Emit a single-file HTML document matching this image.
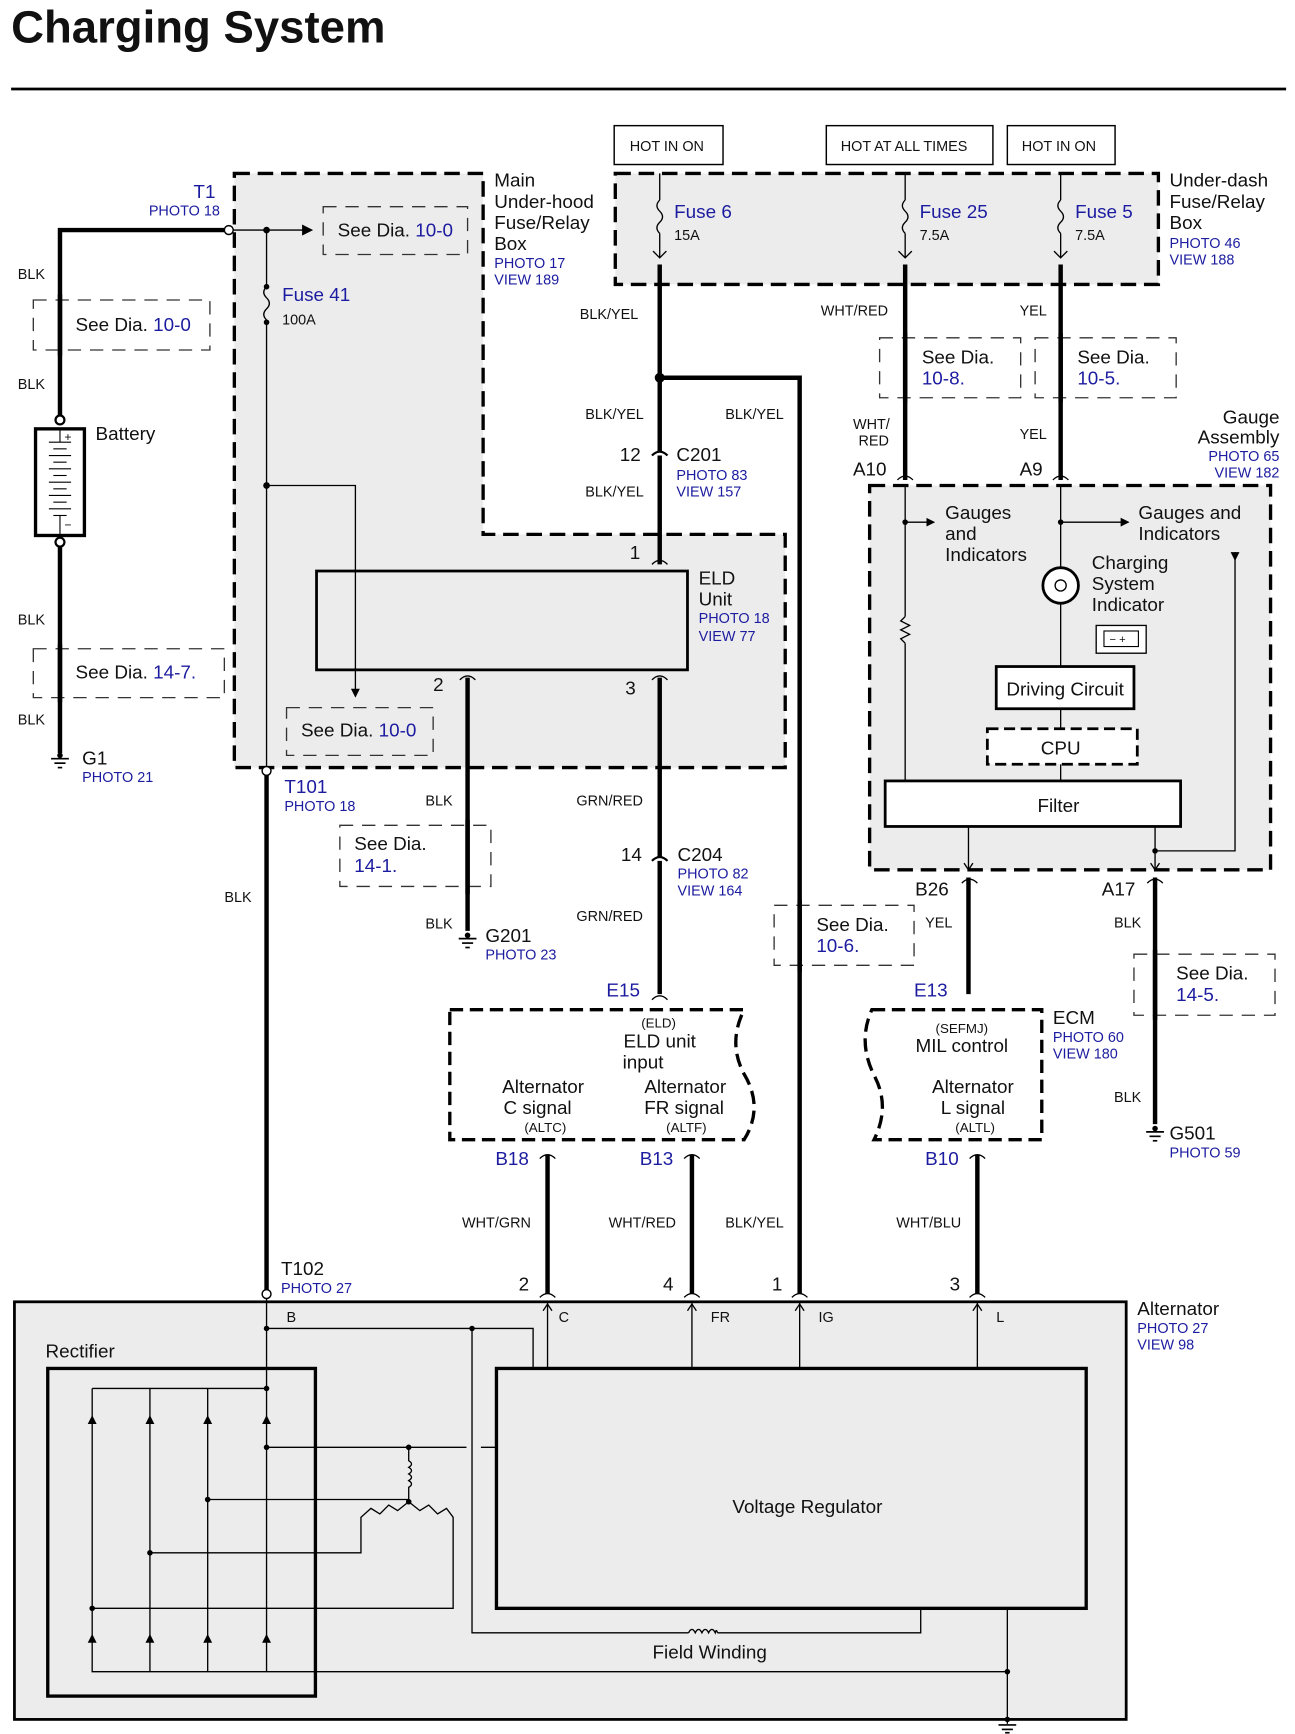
<!DOCTYPE html>
<html><head><meta charset="utf-8"><style>
html,body{margin:0;padding:0;background:#fff}
svg{display:block}
text{font-family:"Liberation Sans",sans-serif;fill:#111}
.b{fill:#1c1ca0}
.s{font-size:13px}
.m{font-size:17px}
.w{fill:none;stroke:#000;stroke-width:4}
.t{fill:none;stroke:#000;stroke-width:1.2}
.d{fill:none;stroke:#333;stroke-width:1.2;stroke-dasharray:12,8}
.box{fill:#ececec;stroke:#000;stroke-width:3;stroke-dasharray:14,7}
</style></head><body>
<svg width="1295" height="1734" viewBox="0 0 1166 1561" xmlns="http://www.w3.org/2000/svg">
<defs>
<marker id="ar" markerWidth="10" markerHeight="10" refX="8" refY="5" orient="auto" markerUnits="userSpaceOnUse"><path d="M0,0 L10,5 L0,10 z" fill="#000"/></marker>
<marker id="as" markerWidth="8" markerHeight="8" refX="7" refY="4" orient="auto" markerUnits="userSpaceOnUse"><path d="M0,0 L8,4 L0,8 z" fill="#000"/></marker>
</defs>
<text x="10" y="38" style="font-size:41px;font-weight:bold">Charging System</text>
<line x1="10" y1="80" x2="1158" y2="80" stroke="#000" stroke-width="2.5"/>

<path class="box" d="M211,156 H435 V481 H707 V691 H211 Z"/>
<text class="m" x="445" y="168">Main</text><text class="m" x="445" y="187">Under-hood</text><text class="m" x="445" y="206">Fuse/Relay</text><text class="m" x="445" y="225">Box</text>
<text class="s b" x="445" y="241">PHOTO 17</text><text class="s b" x="445" y="256">VIEW 189</text>
<text class="m b" x="194" y="178" text-anchor="end">T1</text><text class="s b" x="198" y="194" text-anchor="end">PHOTO 18</text>
<path class="w" d="M202,207 H54 V378"/>
<line class="t" x1="210" y1="207" x2="280" y2="207" marker-end="url(#ar)"/>
<circle cx="240" cy="207" r="3" fill="#000"/>
<circle cx="206" cy="207" r="4" fill="#fff" stroke="#000" stroke-width="1.3"/>
<rect class="d" x="291" y="186" width="130" height="43"/>
<text class="m" x="304" y="213">See Dia. <tspan class="b">10-0</tspan></text>
<line class="t" x1="240" y1="207" x2="240" y2="258"/>
<path class="t" d="M240,258 q-5,5 0,10 q5,5 0,10 q-5,5 0,10"/>
<circle cx="240" cy="258" r="2.5"/><circle cx="240" cy="290" r="2.5"/>
<line class="t" x1="240" y1="288" x2="240" y2="690"/>
<text class="m b" x="254" y="271">Fuse 41</text><text class="s" x="254" y="292">100A</text>
<circle cx="240" cy="437" r="3"/>
<path class="t" d="M240,437 H320 V627" marker-end="url(#as)"/>
<rect class="d" x="258" y="637" width="132" height="43"/>
<text class="m" x="271" y="663">See Dia. <tspan class="b">10-0</tspan></text>

<text class="s" x="16" y="251">BLK</text><text class="s" x="16" y="350">BLK</text><text class="s" x="16" y="562">BLK</text><text class="s" x="16" y="652">BLK</text>
<rect class="d" x="30" y="270" width="159" height="45" fill="#fff"/>
<line class="w" x1="54" y1="265" x2="54" y2="320"/>
<text class="m" x="68" y="298">See Dia. <tspan class="b">10-0</tspan></text>
<rect x="32" y="386" width="44" height="96" fill="#fff" stroke="#000" stroke-width="3"/>
<g stroke="#000" stroke-width="1">
<line x1="44" y1="398" x2="64" y2="398"/><line x1="48" y1="404" x2="60" y2="404"/><line x1="44" y1="410" x2="64" y2="410"/><line x1="48" y1="416" x2="60" y2="416"/><line x1="44" y1="422" x2="64" y2="422"/><line x1="48" y1="428" x2="60" y2="428"/><line x1="44" y1="434" x2="64" y2="434"/><line x1="48" y1="440" x2="60" y2="440"/><line x1="44" y1="446" x2="64" y2="446"/><line x1="48" y1="452" x2="60" y2="452"/><line x1="44" y1="458" x2="64" y2="458"/><line x1="48" y1="464" x2="60" y2="464"/><line x1="54" y1="386" x2="54" y2="398"/><line x1="54" y1="464" x2="54" y2="482"/></g>
<text x="58" y="397" style="font-size:11px">+</text><text x="58" y="476" style="font-size:11px">−</text>
<circle cx="54" cy="378" r="4" fill="#fff" stroke="#000" stroke-width="2"/>
<circle cx="54" cy="488" r="4" fill="#fff" stroke="#000" stroke-width="2"/>
<text class="m" x="86" y="396">Battery</text>
<line class="w" x1="54" y1="492" x2="54" y2="678"/>
<rect class="d" x="30" y="584" width="172" height="44" fill="#fff"/>
<line class="w" x1="54" y1="580" x2="54" y2="632"/>
<text class="m" x="68" y="611">See Dia. <tspan class="b">14-7.</tspan></text>
<g stroke="#000" stroke-width="1.5"><line x1="46" y1="683" x2="62" y2="683"/><line x1="49" y1="687" x2="59" y2="687"/><line x1="52" y1="691" x2="56" y2="691"/></g>
<circle cx="54" cy="680" r="2.5"/>
<text class="m" x="74" y="688">G1</text><text class="s b" x="74" y="704">PHOTO 21</text>

<line class="w" x1="240" y1="698" x2="240" y2="1161"/>
<circle cx="240" cy="694" r="4" fill="#fff" stroke="#000" stroke-width="1.3"/>
<text class="m b" x="256" y="714">T101</text><text class="s b" x="256" y="730">PHOTO 18</text>
<text class="s" x="202" y="812">BLK</text>
<text class="m" x="253" y="1148">T102</text><text class="s b" x="253" y="1164">PHOTO 27</text>

<rect x="285" y="514" width="334" height="89" fill="none" stroke="#000" stroke-width="2.5"/>
<text class="m" x="567" y="503">1</text>
<text class="m" x="629" y="526">ELD</text><text class="m" x="629" y="545">Unit</text>
<text class="s b" x="629" y="561">PHOTO 18</text><text class="s b" x="629" y="577">VIEW 77</text>
<text class="m" x="390" y="622">2</text><text class="m" x="563" y="625">3</text>
<path class="t" d="M587,508 q7,-7 14,0 M414,612 q7,-7 14,0 M587,612 q7,-7 14,0" stroke-width="2"/>
<line class="w" x1="421" y1="610" x2="421" y2="838"/>
<rect class="d" x="306" y="743" width="136" height="55" fill="#fff"/>
<line class="w" x1="421" y1="738" x2="421" y2="805"/>
<text class="m" x="319" y="765">See Dia.</text><text class="m b" x="319" y="785">14-1.</text>
<text class="s" x="383" y="725">BLK</text><text class="s" x="383" y="836">BLK</text>
<g stroke="#000" stroke-width="1.5"><line x1="413" y1="845" x2="429" y2="845"/><line x1="416" y1="849" x2="426" y2="849"/><line x1="419" y1="853" x2="423" y2="853"/></g>
<circle cx="421" cy="842" r="2.5"/>
<text class="m" x="437" y="848">G201</text><text class="s b" x="437" y="864">PHOTO 23</text>

<line class="w" x1="594" y1="610" x2="594" y2="895"/>
<text class="s" x="519" y="725">GRN/RED</text><text class="s" x="519" y="829">GRN/RED</text>
<path d="M587,775 q7,-7 14,0" fill="#fff" stroke="#000" stroke-width="2"/>
<text class="m" x="559" y="775">14</text><text class="m" x="610" y="775">C204</text>
<text class="s b" x="610" y="791">PHOTO 82</text><text class="s b" x="610" y="806">VIEW 164</text>
<text class="m b" x="546" y="897">E15</text>
<path class="t" d="M587,900 q7,-7 14,0 M866,795 q7,-7 14,0 M486,1043 q7,-7 14,0 M616,1043 q7,-7 14,0 M873,1043 q7,-7 14,0 M1033,795 q7,-7 14,0" stroke-width="2"/>

<g class="s"><rect x="553" y="113" width="98" height="35" fill="#fff" stroke="#000" stroke-width="1.3"/><text x="567" y="136">HOT IN ON</text>
<rect x="744" y="113" width="150" height="35" fill="#fff" stroke="#000" stroke-width="1.3"/><text x="757" y="136">HOT AT ALL TIMES</text>
<rect x="907" y="113" width="97" height="35" fill="#fff" stroke="#000" stroke-width="1.3"/><text x="920" y="136">HOT IN ON</text></g>
<rect class="box" x="554" y="156" width="489" height="100"/>
<text class="m" x="1053" y="168">Under-dash</text><text class="m" x="1053" y="187">Fuse/Relay</text><text class="m" x="1053" y="206">Box</text>
<text class="s b" x="1053" y="223">PHOTO 46</text><text class="s b" x="1053" y="238">VIEW 188</text>
<g class="t">
<line x1="594" y1="156" x2="594" y2="180"/><path d="M594,180 q-5,5 0,10 q5,5 0,10 q-5,5 0,10"/><line x1="594" y1="210" x2="594" y2="232"/>
<line x1="815" y1="156" x2="815" y2="180"/><path d="M815,180 q-5,5 0,10 q5,5 0,10 q-5,5 0,10"/><line x1="815" y1="210" x2="815" y2="232"/>
<line x1="955" y1="156" x2="955" y2="180"/><path d="M955,180 q-5,5 0,10 q5,5 0,10 q-5,5 0,10"/><line x1="955" y1="210" x2="955" y2="232"/>
<path d="M588,226 l6,6 l6,-6 M809,226 l6,6 l6,-6 M949,226 l6,6 l6,-6"/>
</g>
<text class="m b" x="607" y="196">Fuse 6</text><text class="s" x="607" y="216">15A</text>
<text class="m b" x="828" y="196">Fuse 25</text><text class="s" x="828" y="216">7.5A</text>
<text class="m b" x="968" y="196">Fuse 5</text><text class="s" x="968" y="216">7.5A</text>

<line class="w" x1="594" y1="238" x2="594" y2="508"/>
<circle cx="594" cy="340" r="4.5"/>
<path class="w" d="M594,340 H720 V1165"/>
<path d="M587,410 q7,-7 14,0" fill="#fff" stroke="#000" stroke-width="2"/>
<text class="s" x="522" y="287">BLK/YEL</text><text class="s" x="527" y="377">BLK/YEL</text><text class="s" x="653" y="377">BLK/YEL</text><text class="s" x="527" y="447">BLK/YEL</text>
<text class="m" x="558" y="415">12</text><text class="m" x="609" y="415">C201</text>
<text class="s b" x="609" y="432">PHOTO 83</text><text class="s b" x="609" y="447">VIEW 157</text>
<rect class="d" x="697" y="815" width="126" height="54" fill="#fff"/>
<line class="w" x1="720" y1="810" x2="720" y2="875"/>
<text class="m" x="735" y="838">See Dia.</text><text class="m b" x="735" y="857">10-6.</text>
<text class="s" x="653" y="1105">BLK/YEL</text>

<line class="w" x1="815" y1="238" x2="815" y2="432"/>
<line class="w" x1="955" y1="238" x2="955" y2="432"/>
<text class="s" x="739" y="284">WHT/RED</text><text class="s" x="918" y="284">YEL</text>
<rect class="d" x="792" y="304" width="127" height="54" fill="#fff"/><line class="w" x1="815" y1="300" x2="815" y2="362"/>
<text class="m" x="830" y="327">See Dia.</text><text class="m b" x="830" y="346">10-8.</text>
<rect class="d" x="932" y="304" width="127" height="54" fill="#fff"/><line class="w" x1="955" y1="300" x2="955" y2="362"/>
<text class="m" x="970" y="327">See Dia.</text><text class="m b" x="970" y="346">10-5.</text>
<text class="s" x="768" y="386">WHT/</text><text class="s" x="773" y="401">RED</text><text class="s" x="918" y="395">YEL</text>
<text class="m" x="768" y="428">A10</text><text class="m" x="918" y="428">A9</text>
<text class="m" x="1152" y="381" text-anchor="end">Gauge</text><text class="m" x="1152" y="399" text-anchor="end">Assembly</text>
<text class="s b" x="1152" y="415" text-anchor="end">PHOTO 65</text><text class="s b" x="1152" y="430" text-anchor="end">VIEW 182</text>

<rect class="box" x="783" y="437" width="361" height="346"/>
<path class="t" d="M808,432 q7,-7 14,0 M948,432 q7,-7 14,0" stroke-width="2"/>
<g class="t">
<line x1="815" y1="437" x2="815" y2="555"/><path d="M815,555 l-4,4 l8,4 l-8,4 l8,4 l-8,4 l4,4"/><line x1="815" y1="579" x2="815" y2="703"/>
<line x1="815" y1="470" x2="841" y2="470" marker-end="url(#as)"/>
<line x1="955" y1="437" x2="955" y2="511"/>
<line x1="955" y1="470" x2="1016" y2="470" marker-end="url(#as)"/>
<line x1="955" y1="543" x2="955" y2="600"/><line x1="955" y1="638" x2="955" y2="656"/><line x1="955" y1="688" x2="955" y2="703"/>
<path d="M1112,497 V766 H1040"/>
<line x1="872" y1="744" x2="872" y2="783"/><line x1="1040" y1="744" x2="1040" y2="783"/>
<path d="M868,777 l4,6 l4,-6 M1036,777 l4,6 l4,-6"/>
</g>
<circle cx="815" cy="470" r="2.5"/><circle cx="955" cy="470" r="2.5"/><circle cx="1040" cy="766" r="2.5"/>
<path d="M1108,497 h8 l-4,8z" fill="#000"/>
<text class="m" x="851" y="467">Gauges</text><text class="m" x="851" y="486">and</text><text class="m" x="851" y="505">Indicators</text>
<text class="m" x="1025" y="467">Gauges and</text><text class="m" x="1025" y="486">Indicators</text>
<circle cx="955" cy="527" r="16" fill="#fff" stroke="#000" stroke-width="2.5"/>
<circle cx="955" cy="527" r="5" fill="none" stroke="#000" stroke-width="1.2"/>
<text class="m" x="983" y="512">Charging</text><text class="m" x="983" y="531">System</text><text class="m" x="983" y="550">Indicator</text>
<rect x="987" y="563" width="45" height="25" fill="#fff" stroke="#000" stroke-width="1.2"/>
<rect x="994" y="568" width="31" height="14" fill="none" stroke="#000" stroke-width="1"/>
<text x="999" y="579" style="font-size:10px">−  +</text>
<rect x="897" y="600" width="124" height="38" fill="#fff" stroke="#000" stroke-width="2.5"/>
<text class="m" x="959" y="626" text-anchor="middle">Driving Circuit</text>
<rect x="889" y="656" width="135" height="32" fill="#fff" stroke="#000" stroke-width="2.5" stroke-dasharray="10,5"/>
<text class="m" x="955" y="679" text-anchor="middle">CPU</text>
<rect x="797" y="703" width="266" height="41" fill="#fff" stroke="#000" stroke-width="2.5"/>
<text class="m" x="953" y="731" text-anchor="middle">Filter</text>

<text class="m" x="824" y="806">B26</text><text class="m" x="992" y="806">A17</text>
<line class="w" x1="872" y1="790" x2="872" y2="895"/>
<text class="s" x="833" y="835">YEL</text><text class="m b" x="823" y="897">E13</text>
<line class="w" x1="1040" y1="790" x2="1040" y2="1012"/>
<text class="s" x="1003" y="835">BLK</text><text class="s" x="1003" y="992">BLK</text>
<rect class="d" x="1021" y="859" width="127" height="55" fill="#fff"/><line class="w" x1="1040" y1="855" x2="1040" y2="918"/>
<text class="m" x="1059" y="882">See Dia.</text><text class="m b" x="1059" y="901">14-5.</text>
<g stroke="#000" stroke-width="1.5"><line x1="1032" y1="1019" x2="1048" y2="1019"/><line x1="1035" y1="1023" x2="1045" y2="1023"/><line x1="1038" y1="1027" x2="1042" y2="1027"/></g>
<circle cx="1040" cy="1016" r="2.5"/>
<text class="m" x="1053" y="1026">G501</text><text class="s b" x="1053" y="1042">PHOTO 59</text>

<path d="M405,909 H670 q-15,30 0,58 q18,30 0,59 H405 Z" fill="#fff" stroke="#000" stroke-width="3" stroke-dasharray="12,6"/>
<g text-anchor="middle">
<text x="593" y="925" style="font-size:12px">(ELD)</text><text class="m" x="594" y="943">ELD unit</text><text class="m" x="579" y="962">input</text>
<text class="m" x="489" y="984">Alternator</text><text class="m" x="484" y="1003">C signal</text><text x="491" y="1019" style="font-size:12px">(ALTC)</text>
<text class="m" x="617" y="984">Alternator</text><text class="m" x="616" y="1003">FR signal</text><text x="618" y="1019" style="font-size:12px">(ALTF)</text>
</g>
<path d="M785,909 H938 V1026 H787 q15,-30 0,-58 q-15,-30 -2,-59 Z" fill="#fff" stroke="#000" stroke-width="3" stroke-dasharray="12,6"/>
<g text-anchor="middle">
<text x="866" y="930" style="font-size:12px">(SEFMJ)</text><text class="m" x="866" y="947">MIL control</text>
<text class="m" x="876" y="984">Alternator</text><text class="m" x="876" y="1003">L signal</text><text x="878" y="1019" style="font-size:12px">(ALTL)</text>
</g>
<text class="m" x="948" y="922">ECM</text><text class="s b" x="948" y="938">PHOTO 60</text><text class="s b" x="948" y="953">VIEW 180</text>
<text class="m b" x="446" y="1049">B18</text><text class="m b" x="576" y="1049">B13</text><text class="m b" x="833" y="1049">B10</text>
<line class="w" x1="493" y1="1040" x2="493" y2="1165"/>
<line class="w" x1="623" y1="1040" x2="623" y2="1165"/>
<line class="w" x1="880" y1="1040" x2="880" y2="1165"/>
<text class="s" x="416" y="1105">WHT/GRN</text><text class="s" x="548" y="1105">WHT/RED</text><text class="s" x="807" y="1105">WHT/BLU</text>
<text class="m" x="467" y="1162">2</text><text class="m" x="597" y="1162">4</text><text class="m" x="695" y="1162">1</text><text class="m" x="855" y="1162">3</text>
<path class="t" d="M486,1168 q7,-7 14,0 M616,1168 q7,-7 14,0 M713,1168 q7,-7 14,0 M873,1168 q7,-7 14,0" stroke-width="2"/>

<rect x="13" y="1172" width="1001" height="376" fill="#ececec" stroke="#000" stroke-width="2.5"/>
<circle cx="240" cy="1165" r="4" fill="#fff" stroke="#000" stroke-width="1.3"/>
<text class="m" x="1024" y="1184">Alternator</text><text class="s b" x="1024" y="1200">PHOTO 27</text><text class="s b" x="1024" y="1215">VIEW 98</text>
<g class="s"><text x="258" y="1190">B</text><text x="503" y="1190">C</text><text x="640" y="1190">FR</text><text x="737" y="1190">IG</text><text x="897" y="1190">L</text></g>
<g class="t">
<line x1="493" y1="1172" x2="493" y2="1232"/><line x1="623" y1="1172" x2="623" y2="1232"/><line x1="720" y1="1172" x2="720" y2="1232"/><line x1="880" y1="1172" x2="880" y2="1232"/>
<path d="M489,1180 l4,-6 l4,6 M619,1180 l4,-6 l4,6 M716,1180 l4,-6 l4,6 M876,1180 l4,-6 l4,6"/>
<line x1="240" y1="1169" x2="240" y2="1505"/>
<path d="M240,1196 H480 V1232"/>
<path d="M425,1196 V1470 H620 M646,1470 H829 V1448"/>
<path d="M620,1470 q3,-6 6,0 q3,-6 6,0 q3,-6 6,0 q3,-6 6,0 q1,-4 2,0"/>
<path d="M83,1250 H240 M83,1250 V1505 H907 M135,1250 V1505 M187,1250 V1505"/>
<path d="M240,1303 H420 M433,1303 H447"/>
<path d="M368,1303 V1315 q5,3 0,6 q5,3 0,6 q5,3 0,6 q5,3 0,6 V1352"/>
<path d="M368,1352 l-10,8 l-8,-5 l-8,8 l-8,-5 l-9,8 V1398 H135"/>
<path d="M368,1352 l10,8 l8,-5 l8,8 l8,-5 l6,8 V1448 H83"/>
<path d="M187,1350 H368"/>
<line x1="907" y1="1448" x2="907" y2="1552"/>
</g>
<g fill="#000">
<path d="M79,1282 h8 l-4,-8z M131,1282 h8 l-4,-8z M183,1282 h8 l-4,-8z M236,1282 h8 l-4,-8z"/>
<path d="M79,1479 h8 l-4,-8z M131,1479 h8 l-4,-8z M183,1479 h8 l-4,-8z M236,1479 h8 l-4,-8z"/>
<circle cx="240" cy="1196" r="2.5"/><circle cx="425" cy="1196" r="2.5"/><circle cx="240" cy="1250" r="2.5"/><circle cx="240" cy="1303" r="2.5"/><circle cx="368" cy="1303" r="2.5"/><circle cx="187" cy="1350" r="2.5"/><circle cx="135" cy="1398" r="2.5"/><circle cx="83" cy="1448" r="2.5"/><circle cx="368" cy="1352" r="2.5"/><circle cx="907" cy="1505" r="2.5"/><circle cx="907" cy="1548" r="2.5"/>
</g>
<g stroke="#000" stroke-width="1.5"><line x1="899" y1="1553" x2="915" y2="1553"/><line x1="902" y1="1557" x2="912" y2="1557"/><line x1="905" y1="1560" x2="909" y2="1560"/></g>
<rect x="447" y="1232" width="531" height="216" fill="#ececec" stroke="#000" stroke-width="3"/>
<text class="m" x="727" y="1362" text-anchor="middle">Voltage Regulator</text>
<rect x="43" y="1232" width="241" height="295" fill="none" stroke="#000" stroke-width="3"/>
<text class="m" x="41" y="1222">Rectifier</text>
<text class="m" x="639" y="1493" text-anchor="middle">Field Winding</text>
</svg>
</body></html>
